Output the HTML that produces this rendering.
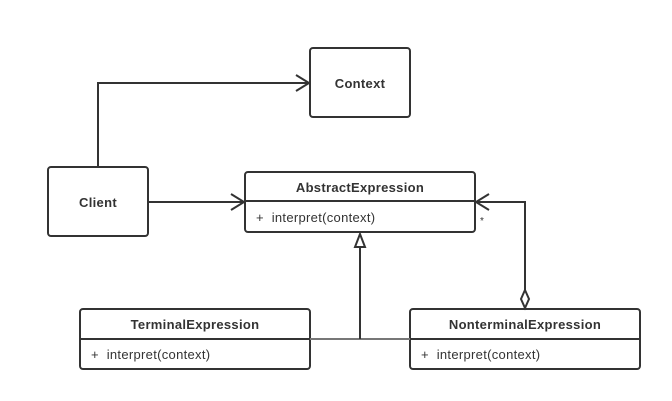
<!DOCTYPE html>
<html><head><style>body{margin:0;background:#fff}svg{display:block}</style></head><body>
<svg width="672" height="401" xmlns="http://www.w3.org/2000/svg" font-family="Liberation Sans, sans-serif" fill="none" stroke="#333" stroke-width="2">
<rect x="310" y="48" width="100" height="69" rx="3"/>
<rect x="48" y="167" width="100" height="69" rx="3"/>
<rect x="245" y="172" width="230" height="60" rx="3"/>
<line x1="245" y1="201" x2="475" y2="201"/>
<rect x="80" y="309" width="230" height="60" rx="3"/>
<line x1="80" y1="339" x2="310" y2="339"/>
<rect x="410" y="309" width="230" height="60" rx="3"/>
<line x1="410" y1="339" x2="640" y2="339"/>
<polyline points="98,167 98,83 309,83"/>
<polyline points="296,75 309,83 296,91"/>
<line x1="148" y1="202" x2="244" y2="202"/>
<polyline points="231,194 244,202 231,210"/>
<line x1="310" y1="339" x2="410" y2="339" stroke="#777"/>
<line x1="360" y1="339" x2="360" y2="247"/>
<polygon points="360,234 355,247 365,247"/>
<polyline points="525,290 525,202 476,202"/>
<polyline points="489,194 476,202 489,210"/>
<polygon points="525,290 529,299 525,308 521,299"/>
<g fill="#333" stroke="none" font-size="13">
<text x="360" y="88" text-anchor="middle" font-weight="bold" letter-spacing="0.3">Context</text>
<text x="98" y="207" text-anchor="middle" font-weight="bold" letter-spacing="0.3">Client</text>
<text x="360" y="192" text-anchor="middle" font-weight="bold" letter-spacing="0.3">AbstractExpression</text>
<text x="256" y="222" letter-spacing="0.3">+&#160;&#160;interpret(context)</text>
<text x="195" y="329" text-anchor="middle" font-weight="bold" letter-spacing="0.3">TerminalExpression</text>
<text x="91" y="359" letter-spacing="0.3">+&#160;&#160;interpret(context)</text>
<text x="525" y="329" text-anchor="middle" font-weight="bold" letter-spacing="0.3">NonterminalExpression</text>
<text x="421" y="359" letter-spacing="0.3">+&#160;&#160;interpret(context)</text>
<text x="480" y="224" font-size="10">*</text>
</g>
</svg>
</body></html>
